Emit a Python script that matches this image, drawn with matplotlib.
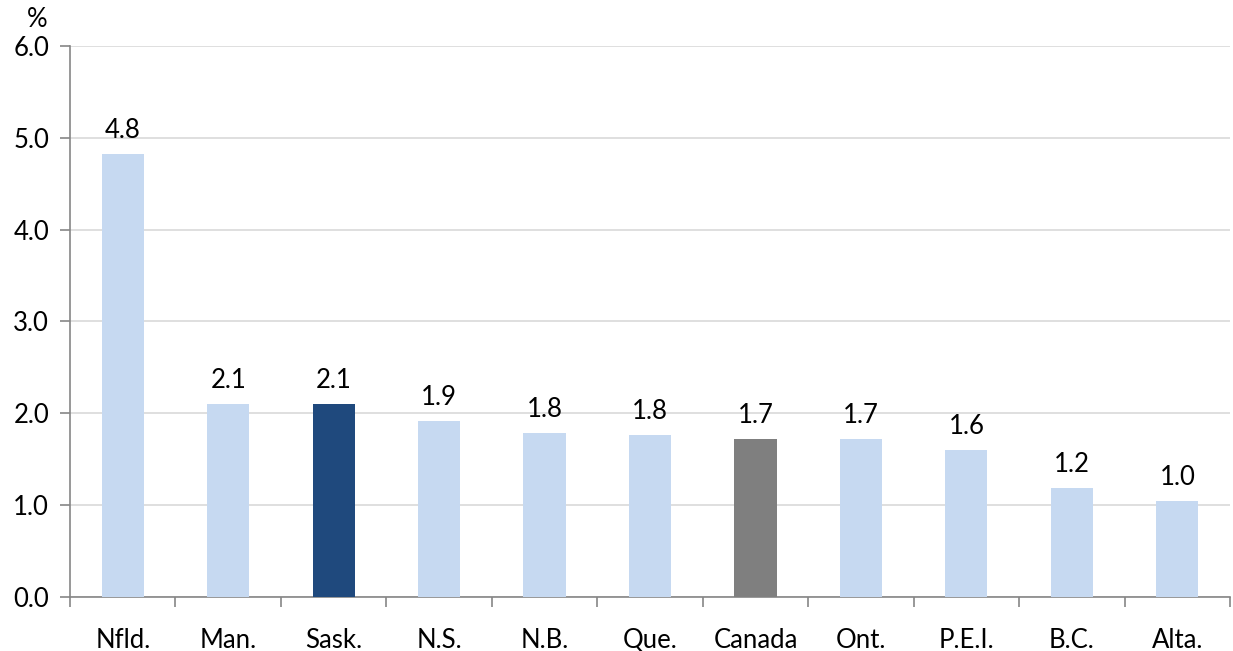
import numpy as np
import matplotlib
matplotlib.use("Agg")
import matplotlib.pyplot as plt
from matplotlib.ticker import FixedLocator, NullFormatter

plt.rcParams['font.family'] = ['Lato', 'DejaVu Sans']

provinces = ["Nfld.", "Man.", "Sask.", "N.S.", "N.B.", "Que.", "Canada", "Ont.", "P.E.I.", "B.C.", "Alta."]
growth = [4.82, 2.10, 2.10, 1.92, 1.79, 1.76, 1.72, 1.72, 1.60, 1.19, 1.04]
colours = ["#c6d9f1"] * len(provinces)
colours[provinces.index("Sask.")] = "#1f497d"
colours[provinces.index("Canada")] = "#7f7f7f"

FS = 18.5

fig = plt.figure(figsize=(12.33, 6.51), dpi=100)
ax = fig.add_axes([0.0568, 0.083, 0.9408, 0.8463])

x = np.arange(len(provinces))
ax.bar(x, growth, width=0.4, color=colours, zorder=3)
for xi, v in zip(x, growth):
    ax.text(xi, v + 0.12, f"{v:.1f}", ha="center", va="bottom", fontsize=FS)

ax.set_xlim(-0.5, len(provinces) - 0.5)
ax.set_ylim(0, 6)
ax.set_yticks(np.arange(0, 7, 1))
ax.set_yticklabels([f"{t:.1f}" for t in range(7)], fontsize=FS)
ax.yaxis.grid(True, color="#d9d9d9", linewidth=1.2, zorder=0)

# category labels centred, tick marks between categories
ax.set_xticks(x)
ax.set_xticklabels(provinces, fontsize=FS)
ax.tick_params(axis="x", which="major", length=0, pad=22)
ax.xaxis.set_minor_locator(FixedLocator(np.arange(-0.5, len(provinces), 1)))
ax.xaxis.set_minor_formatter(NullFormatter())
ax.tick_params(axis="x", which="minor", length=7, width=1.2, color="#868686")
ax.tick_params(axis="y", length=7, width=1.2, color="#868686", pad=8)

for s in ["top", "right"]:
    ax.spines[s].set_visible(False)
for s in ["left", "bottom"]:
    ax.spines[s].set_color("#868686")
    ax.spines[s].set_linewidth(1.2)

ax.text(-0.028, 1.025, "%", transform=ax.transAxes, fontsize=FS, ha="center", va="bottom")

fig.savefig("out.png", dpi=100)
